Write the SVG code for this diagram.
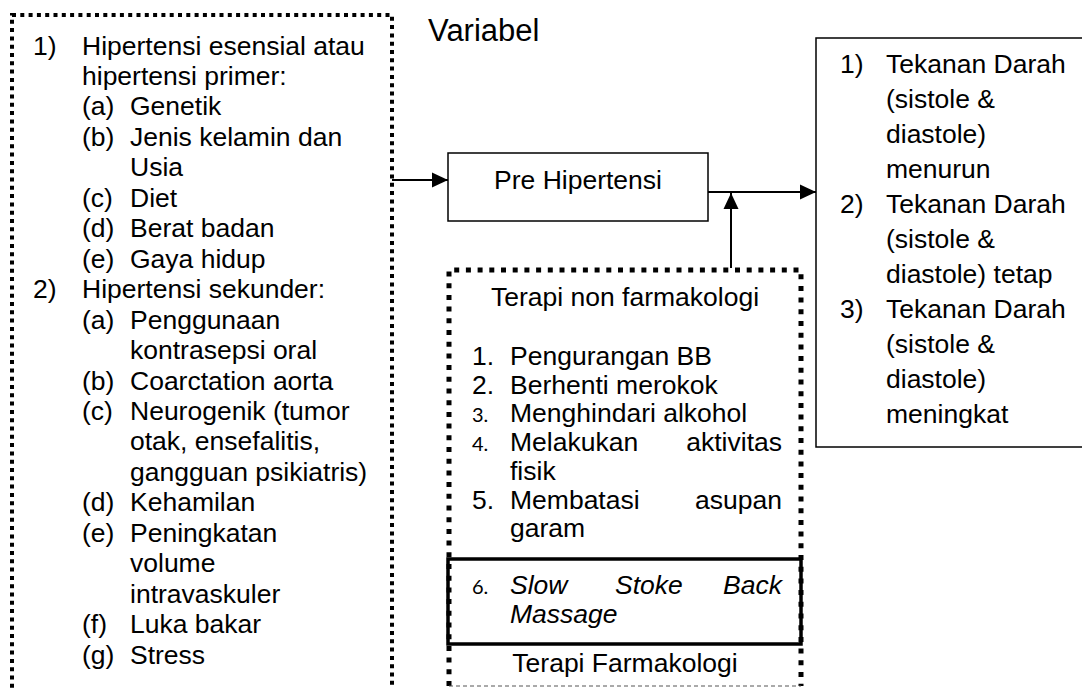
<svg xmlns="http://www.w3.org/2000/svg" width="1082" height="689" viewBox="0 0 1082 689">
<style>
text{font-family:"Liberation Sans",Arial,sans-serif;font-size:26.5px;fill:#000}
.it{font-style:italic}
.num{font-family:Lato,"Liberation Sans",sans-serif;font-size:20px}
.dot1{fill:none;stroke:#000;stroke-width:4;stroke-dasharray:4 4.3}
.dot2{fill:none;stroke:#000;stroke-width:5;stroke-dasharray:5 6.7}
.solid{fill:none;stroke:#000;stroke-width:1.5}
.conn{fill:none;stroke:#000;stroke-width:2;marker-end:url(#ah)}
</style>
<defs>
<marker id="ah" viewBox="0 0 16 16" refX="16" refY="8" markerWidth="16" markerHeight="16" markerUnits="userSpaceOnUse" orient="auto">
<path d="M0,0.5 L16,8 L0,15.5 z" fill="#000"/>
</marker>
</defs>
<rect width="1082" height="689" fill="#fff"/>

<g id="faktor">
<rect class="dot1" x="12" y="15" width="380" height="720"/>
<text x="33" y="54.5">1)</text><text x="82" y="54.5">Hipertensi esensial atau</text>
<text x="82" y="85">hipertensi primer:</text>
<text x="82" y="115.4">(a)</text><text x="130" y="115.4">Genetik</text>
<text x="82" y="145.9">(b)</text><text x="130" y="145.9">Jenis kelamin dan</text>
<text x="130" y="176.3">Usia</text>
<text x="82" y="206.8">(c)</text><text x="130" y="206.8">Diet</text>
<text x="82" y="237.2">(d)</text><text x="130" y="237.2">Berat badan</text>
<text x="82" y="267.7">(e)</text><text x="130" y="267.7">Gaya hidup</text>
<text x="33" y="298.1">2)</text><text x="82" y="298.1">Hipertensi sekunder:</text>
<text x="82" y="328.6">(a)</text><text x="130" y="328.6">Penggunaan</text>
<text x="130" y="359">kontrasepsi oral</text>
<text x="82" y="389.5">(b)</text><text x="130" y="389.5">Coarctation aorta</text>
<text x="82" y="419.9">(c)</text><text x="130" y="419.9">Neurogenik (tumor</text>
<text x="130" y="450.4">otak, ensefalitis,</text>
<text x="130" y="480.8">gangguan psikiatris)</text>
<text x="82" y="511.3">(d)</text><text x="130" y="511.3">Kehamilan</text>
<text x="82" y="541.7">(e)</text><text x="130" y="541.7">Peningkatan</text>
<text x="130" y="572.2">volume</text>
<text x="130" y="602.6">intravaskuler</text>
<text x="82" y="633.1">(f)</text><text x="130" y="633.1">Luka bakar</text>
<text x="82" y="663.5">(g)</text><text x="130" y="663.5">Stress</text>
</g>

<g id="variabel">
<text x="428" y="41" style="font-size:31px">Variabel</text>
</g>

<g id="prehipertensi">
<rect class="solid" x="448" y="153" width="260" height="68"/>
<text x="578" y="189" text-anchor="middle">Pre Hipertensi</text>
</g>

<g id="terapi">
<path class="dot2" d="M449,686 V270 H801 V686"/>
<path d="M449,686 H801" fill="none" stroke="#555" stroke-width="1" stroke-dasharray="4 3"/>
<text x="625" y="306" text-anchor="middle">Terapi non farmakologi</text>
<text x="472" y="365">1.</text><text x="510" y="365">Pengurangan BB</text>
<text x="472" y="393.7">2.</text><text x="510" y="393.7">Berhenti merokok</text>
<text class="num" x="472" y="422.4">3.</text><text x="510" y="422.4">Menghindari alkohol</text>
<text class="num" x="472" y="451">4.</text><text x="510" y="451">Melakukan</text><text x="782" y="451" text-anchor="end">aktivitas</text>
<text x="510" y="479.8">fisik</text>
<text x="472" y="508.5">5.</text><text x="510" y="508.5">Membatasi</text><text x="782" y="508.5" text-anchor="end">asupan</text>
<text x="510" y="537.2">garam</text>
<text x="625" y="672" text-anchor="middle">Terapi Farmakologi</text>
</g>

<g id="ssbm">
<rect x="448" y="559" width="353" height="85" fill="none" stroke="#000" stroke-width="3.5"/>
<text class="num" x="472" y="594">6.</text><text class="it" x="510" y="594">Slow</text><text class="it" x="615" y="594">Stoke</text><text class="it" x="782" y="594" text-anchor="end">Back</text>
<text class="it" x="510" y="622.5">Massage</text>
</g>

<g id="tekanan">
<rect class="solid" x="816" y="38" width="300" height="409"/>
<text x="840" y="73">1)</text><text x="886" y="73">Tekanan Darah</text>
<text x="886" y="108">(sistole &amp;</text>
<text x="886" y="143">diastole)</text>
<text x="886" y="178">menurun</text>
<text x="840" y="213">2)</text><text x="886" y="213">Tekanan Darah</text>
<text x="886" y="248">(sistole &amp;</text>
<text x="886" y="283">diastole) tetap</text>
<text x="840" y="318">3)</text><text x="886" y="318">Tekanan Darah</text>
<text x="886" y="353">(sistole &amp;</text>
<text x="886" y="388">diastole)</text>
<text x="886" y="423">meningkat</text>
</g>

<g id="connectors">
<path class="conn" d="M392,180 H448"/>
<path class="conn" d="M708,192 H816"/>
<path class="conn" d="M731,268 V193"/>
</g>
</svg>
